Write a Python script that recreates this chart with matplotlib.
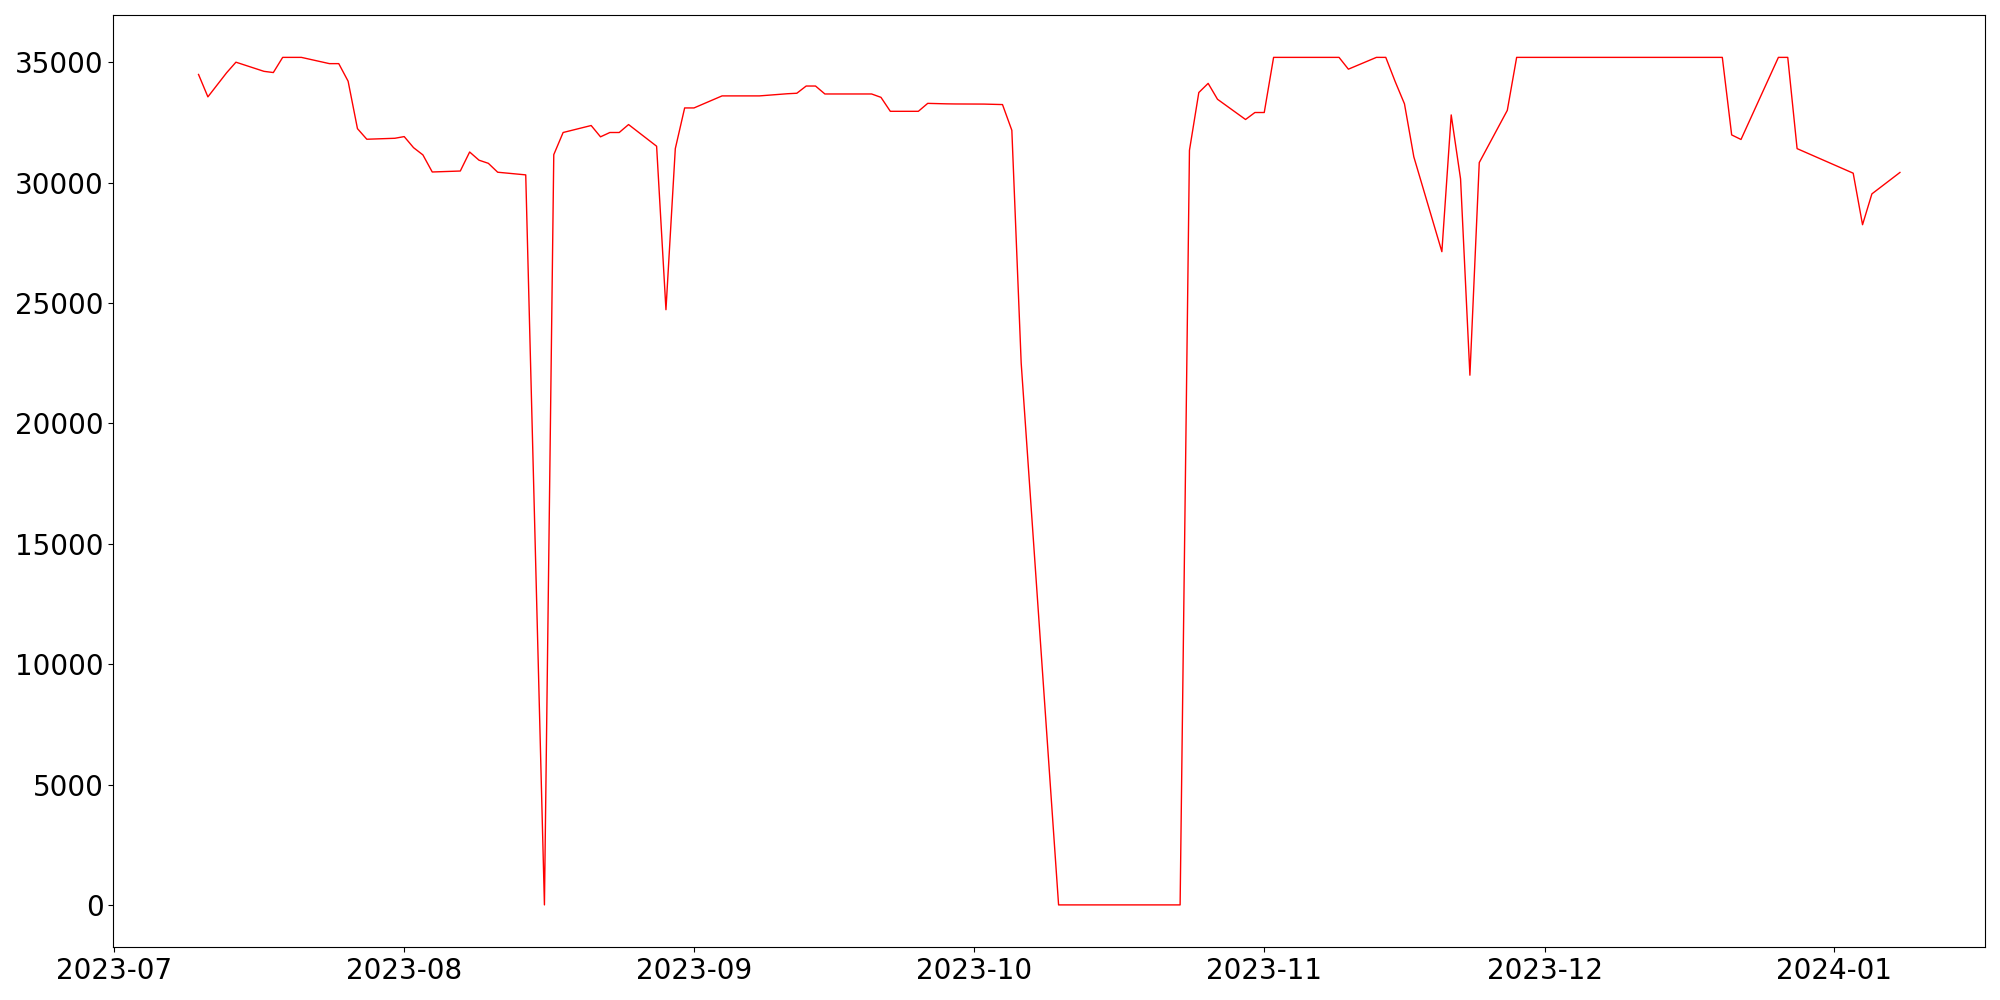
import numpy as np
import pandas as pd
import matplotlib
matplotlib.use("Agg")
import matplotlib.pyplot as plt

# values (weekday samples)
dates = [
    "2023-07-10", "2023-07-11", "2023-07-12", "2023-07-13", "2023-07-14",
    "2023-07-17", "2023-07-18", "2023-07-19", "2023-07-20", "2023-07-21",
    "2023-07-24", "2023-07-25", "2023-07-26", "2023-07-27", "2023-07-28",
    "2023-07-31", "2023-08-01", "2023-08-02", "2023-08-03", "2023-08-04",
    "2023-08-07", "2023-08-08", "2023-08-09", "2023-08-10", "2023-08-11",
    "2023-08-14", "2023-08-16", "2023-08-17", "2023-08-18",
    "2023-08-21", "2023-08-22", "2023-08-23", "2023-08-24", "2023-08-25",
    "2023-08-28", "2023-08-29", "2023-08-30", "2023-08-31", "2023-09-01",
    "2023-09-04", "2023-09-05", "2023-09-06", "2023-09-07", "2023-09-08",
    "2023-09-11", "2023-09-12", "2023-09-13", "2023-09-14", "2023-09-15",
    "2023-09-18", "2023-09-19", "2023-09-20", "2023-09-21", "2023-09-22",
    "2023-09-25", "2023-09-26", "2023-09-27", "2023-09-28", "2023-09-29",
    "2023-10-02", "2023-10-03", "2023-10-04", "2023-10-05", "2023-10-06",
    "2023-10-10", "2023-10-11", "2023-10-12", "2023-10-13",
    "2023-10-16", "2023-10-17", "2023-10-18", "2023-10-19", "2023-10-20",
    "2023-10-23", "2023-10-24", "2023-10-25", "2023-10-26", "2023-10-27",
    "2023-10-30", "2023-10-31", "2023-11-01", "2023-11-02", "2023-11-03",
    "2023-11-06", "2023-11-07", "2023-11-08", "2023-11-09", "2023-11-10",
    "2023-11-13", "2023-11-14", "2023-11-15", "2023-11-16", "2023-11-17",
    "2023-11-20", "2023-11-21", "2023-11-22", "2023-11-23", "2023-11-24",
    "2023-11-27", "2023-11-28", "2023-11-29", "2023-11-30", "2023-12-01",
    "2023-12-04", "2023-12-05", "2023-12-06", "2023-12-07", "2023-12-08",
    "2023-12-11", "2023-12-12", "2023-12-13", "2023-12-14", "2023-12-15",
    "2023-12-18", "2023-12-19", "2023-12-20", "2023-12-21", "2023-12-22",
    "2023-12-26", "2023-12-27", "2023-12-28",
    "2024-01-03", "2024-01-04", "2024-01-05", "2024-01-08",
]
values = [
    34490, 33560, 34060, 34560, 35000,
    34620, 34570, 35200, 35200, 35200,
    34940, 34940, 34210, 32240, 31800,
    31840, 31910, 31450, 31150, 30440,
    30480, 31270, 30930, 30800, 30430,
    30320, 0, 31160, 32080,
    32370, 31900, 32080, 32080, 32410,
    31510, 24720, 31410, 33100, 33100,
    33600, 33600, 33600, 33600, 33600,
    33690, 33710, 34010, 34010, 33680,
    33680, 33680, 33680, 33540, 32960,
    32960, 33290, 33280, 33270, 33265,
    33260, 33250, 33240, 32170, 22500,
    0, 0, 0, 0,
    0, 0, 0, 0, 0,
    0, 31340, 33740, 34120, 33460,
    32620, 32910, 32910, 35200, 35200,
    35200, 35200, 35200, 35200, 34710,
    35200, 35200, 34200, 33270, 31070,
    27130, 32810, 30150, 22000, 30830,
    33000, 35200, 35200, 35200, 35200,
    35200, 35200, 35200, 35200, 35200,
    35200, 35200, 35200, 35200, 35200,
    35200, 35200, 35200, 31980, 31790,
    35200, 35200, 31410,
    30390, 28250, 29530, 30420,
]

x = pd.to_datetime(dates)

fig, ax = plt.subplots(figsize=(20, 10), dpi=100)
ax.plot(x, values, color="red", linewidth=1)
ax.tick_params(axis="both", labelsize=20)
plt.tight_layout()
plt.savefig("out.png")
